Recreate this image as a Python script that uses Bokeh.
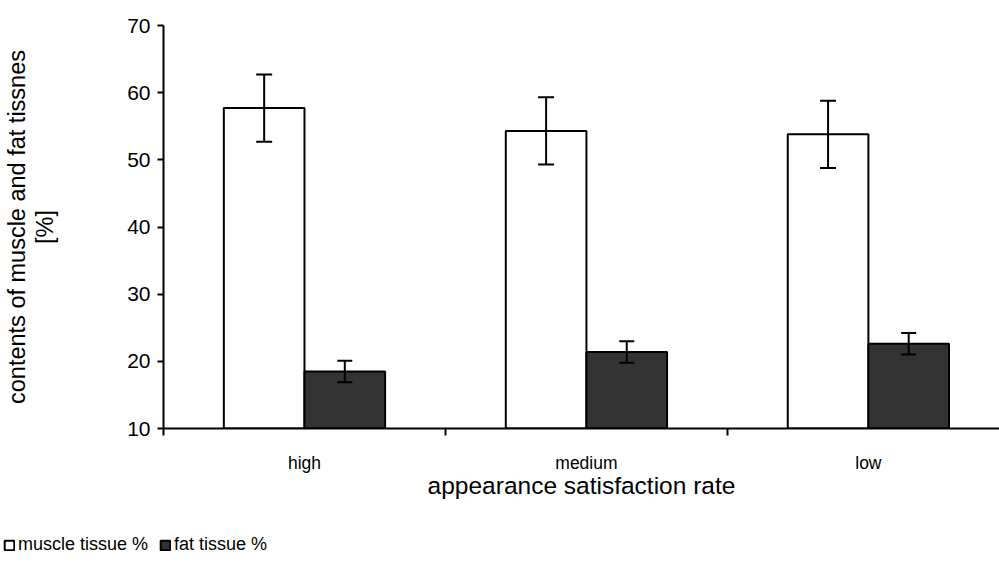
from bokeh.plotting import figure
from bokeh.layouts import column
from bokeh.models import (ColumnDataSource, Range1d, FixedTicker, Whisker, TeeHead,
                          Legend, LegendItem)
from bokeh.embed import file_html
from bokeh.resources import INLINE

categories = ["high", "medium", "low"]
muscle = [57.7, 54.3, 53.8]
muscle_err = [5.0, 5.0, 5.0]
fat = [18.5, 21.4, 22.6]
fat_err = [1.6, 1.6, 1.6]
y_ticks = [10, 20, 30, 40, 50, 60, 70]
series_names = ["muscle tissue %", "fat tissue %"]

FONT = "Liberation Sans"
y_start, y_end = y_ticks[0], y_ticks[-1]
bar_w = 0.286

idx = list(range(len(categories)))
centers = [i + 0.5 for i in idx]

src_m = ColumnDataSource(dict(
    x=[c - bar_w / 2 for c in centers], top=muscle,
    upper=[v + e for v, e in zip(muscle, muscle_err)],
    lower=[v - e for v, e in zip(muscle, muscle_err)]))
src_f = ColumnDataSource(dict(
    x=[c + bar_w / 2 for c in centers], top=fat,
    upper=[v + e for v, e in zip(fat, fat_err)],
    lower=[v - e for v, e in zip(fat, fat_err)]))

p = figure(width=999, height=520, output_backend="svg", toolbar_location=None,
           x_range=Range1d(0, 2.965), y_range=Range1d(y_start, y_end),
           min_border_left=160, min_border_top=25, min_border_bottom=92,
           min_border_right=0)
p.outline_line_color = None
p.xgrid.visible = False
p.ygrid.visible = False
p.background_fill_color = "white"
p.border_fill_color = "white"

bar_m = dict(fill_color="white", line_color="black", line_width=2)
bar_f = dict(fill_color="#333333", line_color="black", line_width=2)

p.vbar(x="x", top="top", bottom=y_start, width=bar_w, source=src_m, **bar_m)
p.vbar(x="x", top="top", bottom=y_start, width=bar_w, source=src_f, **bar_f)

for src, cap in ((src_m, 16), (src_f, 15)):
    w = Whisker(source=src, base="x", upper="upper", lower="lower",
                dimension="height", line_color="black", line_width=2,
                upper_head=TeeHead(size=cap, line_width=2, line_color="black"),
                lower_head=TeeHead(size=cap, line_width=2, line_color="black"),
                level="overlay")
    p.add_layout(w)

# y axis
ya = p.yaxis[0]
ya.ticker = FixedTicker(ticks=y_ticks, minor_ticks=[])
ya.axis_line_width = 2
ya.axis_line_color = "black"
ya.major_tick_line_width = 2
ya.major_tick_line_color = "black"
ya.major_tick_out = 6
ya.major_tick_in = 0
ya.minor_tick_line_color = None
ya.major_label_text_font = FONT
ya.major_label_text_font_size = "21px"
ya.major_label_text_color = "black"
ya.major_label_standoff = 7
ya.axis_label = "contents of muscle and fat tissnes\n[%]"
ya.axis_label_text_font = FONT
ya.axis_label_text_font_size = "23.5px"
ya.axis_label_text_line_height = 1.1
ya.axis_label_text_font_style = "normal"
ya.axis_label_text_color = "black"
ya.axis_label_standoff = 66

# x axis
xa = p.xaxis[0]
xa.ticker = FixedTicker(ticks=centers, minor_ticks=[0, 1, 2, 3])
xa.major_label_overrides = {c: name for c, name in zip(centers, categories)}
xa.axis_line_width = 2
xa.axis_line_color = "black"
xa.major_tick_out = 0
xa.major_tick_in = 0
xa.major_tick_line_color = None
xa.minor_tick_out = 7
xa.minor_tick_in = 0
xa.minor_tick_line_width = 2
xa.minor_tick_line_color = "black"
xa.major_label_text_font = FONT
xa.major_label_text_font_size = "17.5px"
xa.major_label_text_color = "black"
xa.major_label_standoff = 17
xa.axis_label = "appearance satisfaction rate"
xa.axis_label_text_font = FONT
xa.axis_label_text_font_size = "24.5px"
xa.axis_label_text_font_style = "normal"
xa.axis_label_text_color = "black"
xa.axis_label_standoff = -4

# legend strip below the chart
p2 = figure(width=999, height=43, output_backend="svg", toolbar_location=None,
            x_range=Range1d(0, 1), y_range=Range1d(0, 1),
            min_border=0)
p2.frame_align = False
p2.axis.visible = False
p2.grid.visible = False
p2.outline_line_color = None
lm = p2.vbar(x="x", top="top", bottom=y_start, width=bar_w, source=src_m,
             visible=False, **bar_m)
lf = p2.vbar(x="x", top="top", bottom=y_start, width=bar_w, source=src_f,
             visible=False, **bar_f)
legend = Legend(items=[LegendItem(label=series_names[0], renderers=[lm]),
                       LegendItem(label=series_names[1], renderers=[lf])],
                location=(3, 8), orientation="horizontal",
                glyph_width=12, glyph_height=12, label_standoff=3, spacing=11,
                padding=0, margin=0, border_line_color=None,
                background_fill_alpha=0, inactive_fill_alpha=0,
                label_text_font=FONT, label_text_font_size="18px",
                label_text_color="black", click_policy="none")
p2.add_layout(legend)

open("out.html", "w").write(file_html(column(p, p2, spacing=0), INLINE))
